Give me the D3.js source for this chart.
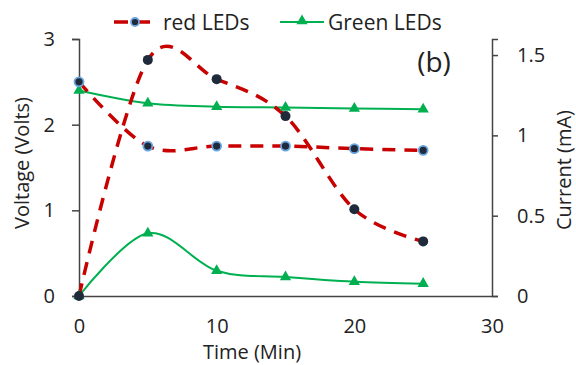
<!DOCTYPE html>
<html>
<head>
<meta charset="utf-8">
<script src="https://cdn.jsdelivr.net/npm/d3@7"></script>
<style>
  body { margin: 0; background: #fff; }
  text { font-family: "Open Sans", sans-serif; fill: #222; }
</style>
</head>
<body>
<svg id="graph" width="576" height="365"></svg>
<script>
const times = [0, 5, 10, 15, 20, 25];
const redVoltage = [2.5, 1.75, 1.75, 1.75, 1.72, 1.70];
const redCurrent = [0, 1.47, 1.35, 1.12, 0.54, 0.34];
const greenVoltage = [2.40, 2.25, 2.21, 2.20, 2.19, 2.18];
const greenCurrent = [0, 0.39, 0.157, 0.118, 0.089, 0.077];
const xTicks = [0, 10, 20, 30];
const vTicks = [0, 1, 2, 3];
const cTicks = [0, 0.5, 1, 1.5];

const RED = "#c80000", GREEN = "#00b050";

const svg = d3.select("#graph");

const x = d3.scaleLinear().domain([0, 30]).range([79, 492]);
const yV = d3.scaleLinear().domain([0, 3]).range([296, 39]);
const yC = d3.scaleLinear().domain([0, 1.6]).range([296, 39]);

// axes
const axL = svg.append("g").attr("transform", "translate(79,0)")
    .call(d3.axisLeft(yV).tickValues(vTicks).tickFormat(d3.format("d")).tickSizeOuter(0).tickSize(7).tickPadding(17));
const axR = svg.append("g").attr("transform", "translate(492,0)")
    .call(d3.axisRight(yC).tickValues(cTicks).tickFormat(d => d).tickSizeOuter(0).tickSize(6).tickPadding(19));
const axB = svg.append("g").attr("transform", "translate(0,296)")
    .call(d3.axisBottom(x).tickValues(xTicks).tickSizeOuter(0).tickSize(0).tickPadding(23));

[axL, axR, axB].forEach(a => {
  a.selectAll("path, line").attr("stroke", "#444").attr("stroke-width", 1.5);
  a.selectAll("text").style("font-size", "20px").attr("fill", "#222");
});

// lines
const lineV = d3.line().x((d, i) => x(times[i])).y(d => yV(d)).curve(d3.curveCatmullRom.alpha(0));
const lineC = d3.line().x((d, i) => x(times[i])).y(d => yC(d)).curve(d3.curveCatmullRom.alpha(0));

svg.append("path").datum(greenVoltage).attr("d", lineV)
  .attr("fill", "none").attr("stroke", GREEN).attr("stroke-width", 2);
svg.append("path").datum(greenCurrent).attr("d", lineC)
  .attr("fill", "none").attr("stroke", GREEN).attr("stroke-width", 2);
svg.append("path").datum(redVoltage).attr("d", lineV)
  .attr("fill", "none").attr("stroke", RED).attr("stroke-width", 3.5).attr("stroke-dasharray", "13,9");
svg.append("path").datum(redCurrent).attr("d", lineC)
  .attr("fill", "none").attr("stroke", RED).attr("stroke-width", 3.5).attr("stroke-dasharray", "13,9");

// markers
const tri = d3.symbol().type(d3.symbolTriangle).size(55);
svg.selectAll(".gv").data(greenVoltage).join("path")
  .attr("transform", (d, i) => `translate(${x(times[i])},${yV(d)})`)
  .attr("d", tri).attr("fill", GREEN);
svg.selectAll(".gc").data(greenCurrent).join("path")
  .attr("transform", (d, i) => `translate(${x(times[i])},${yC(d)})`)
  .attr("d", tri).attr("fill", GREEN);
svg.selectAll(".rv").data(redVoltage).join("circle")
  .attr("cx", (d, i) => x(times[i])).attr("cy", d => yV(d)).attr("r", 4.5)
  .attr("fill", "#1f2a3a").attr("stroke", "#6aa6e0").attr("stroke-width", 1.8);
svg.selectAll(".rc").data(redCurrent).join("circle")
  .attr("cx", (d, i) => x(times[i])).attr("cy", d => yC(d)).attr("r", 5)
  .attr("fill", "#1f2a3a");

// axis titles
svg.append("text").attr("x", 252).attr("y", 359).attr("text-anchor", "middle")
  .style("font-size", "20px").text("Time (Min)");
svg.append("text").attr("transform", "translate(29,163) rotate(-90)").attr("text-anchor", "middle")
  .style("font-size", "20px").text("Voltage (Volts)");
svg.append("text").attr("transform", "translate(571,170) rotate(-90)").attr("text-anchor", "middle")
  .style("font-size", "20px").text("Current (mA)");

// panel label
svg.append("text").attr("x", 434).attr("y", 72).attr("text-anchor", "middle")
  .style("font-size", "28px").text("(b)");

// legend
const lg = svg.append("g");
lg.append("line").attr("x1", 114).attr("x2", 156).attr("y1", 22).attr("y2", 22)
  .attr("stroke", RED).attr("stroke-width", 3.5).attr("stroke-dasharray", "14,8");
lg.append("circle").attr("cx", 135).attr("cy", 22).attr("r", 4)
  .attr("fill", "#1f2a3a").attr("stroke", "#6aa6e0").attr("stroke-width", 1.8);
lg.append("text").attr("x", 163).attr("y", 30).style("font-size", "21px").text("red LEDs");
lg.append("line").attr("x1", 280).attr("x2", 324).attr("y1", 22).attr("y2", 22)
  .attr("stroke", GREEN).attr("stroke-width", 2);
lg.append("path").attr("transform", "translate(302,21)").attr("d", tri).attr("fill", GREEN);
lg.append("text").attr("x", 328).attr("y", 30).style("font-size", "21px").text("Green LEDs");
</script>
</body>
</html>
